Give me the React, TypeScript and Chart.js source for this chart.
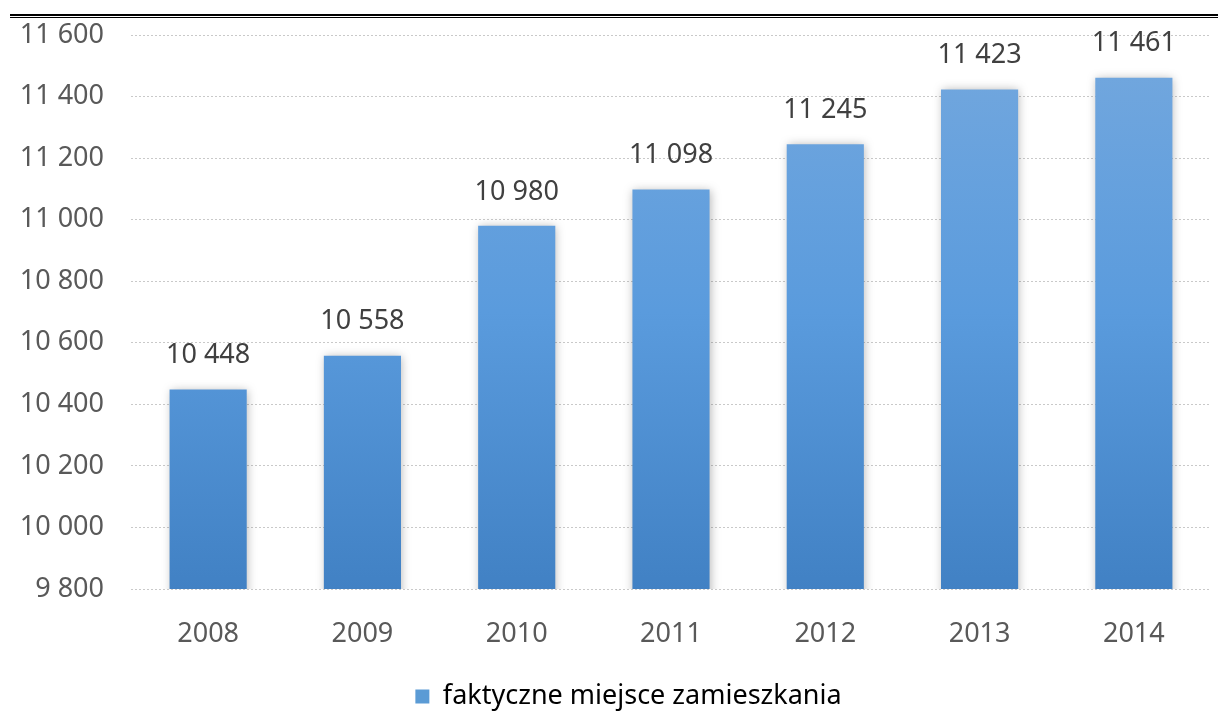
import React, { useEffect, useRef } from "react";
import { Chart, registerables } from "chart.js";

Chart.register(...registerables);

const categories = ["2008", "2009", "2010", "2011", "2012", "2013", "2014"];
const values = [10448, 10558, 10980, 11098, 11245, 11423, 11461];
const seriesLabel = "faktyczne miejsce zamieszkania";
const yMin = 9800;
const yMax = 11600;
const yStep = 200;

const FONT = "'Noto Sans', 'Open Sans', sans-serif";

const fmt = (v: number) => String(v).replace(/\B(?=(\d{3})+(?!\d))/g, " ");

export default function App() {
  const ref = useRef<HTMLCanvasElement | null>(null);

  useEffect(() => {
    document.body.style.margin = "0";
    const canvas = ref.current;
    if (!canvas) return;

    const labelPlugin = {
      id: "barLabels",
      afterLayout(chart: any) {
        const lg = chart.legend;
        if (lg) {
          lg.left += 23;
          lg.right += 23;
        }
      },
      beforeDatasetsDraw(chart: any) {
        const ctx = chart.ctx;
        ctx.save();
        ctx.shadowColor = "rgba(0,0,0,0.28)";
        ctx.shadowBlur = 9;
        ctx.shadowOffsetX = 1;
        ctx.shadowOffsetY = 0;
      },
      afterDatasetsDraw(chart: any) {
        const ctx = chart.ctx;
        ctx.restore();
        ctx.save();
        ctx.font = `27px ${FONT}`;
        ctx.fillStyle = "#404040";
        ctx.textAlign = "center";
        ctx.textBaseline = "middle";
        const meta = chart.getDatasetMeta(0);
        meta.data.forEach((bar: any, i: number) => {
          ctx.fillText(fmt(values[i]), bar.x, bar.y - 34);
        });
        ctx.restore();
      },
    };

    const chart = new Chart(canvas, {
      type: "bar",
      data: {
        labels: categories,
        datasets: [
          {
            label: seriesLabel,
            data: values,
            backgroundColor: (c: any) => {
              const area = c.chart.chartArea;
              if (!area) return "#5b9bd5";
              const g = c.chart.ctx.createLinearGradient(0, area.top, 0, area.bottom);
              g.addColorStop(0, "#74a8de");
              g.addColorStop(0.5, "#5a9bdd");
              g.addColorStop(1, "#4181c4");
              return g;
            },
            borderWidth: 0,
            categoryPercentage: 1,
            barPercentage: 0.5,
          },
        ],
      },
      options: {
        responsive: false,
        animation: false,
        layout: { padding: { top: 35, right: 7, left: 0, bottom: 0 } },
        scales: {
          x: {
            grid: { display: false },
            border: { display: false },
            ticks: {
              color: "#595959",
              font: { family: FONT, size: 27 },
              padding: 21,
            },
            afterFit: (s: any) => {
              s.height = 84;
              s.paddingLeft = 0;
              s.paddingRight = 0;
            },
          },
          y: {
            min: yMin,
            max: yMax,
            grid: { color: "#c9c9c9", drawTicks: false, lineWidth: 1 },
            border: { display: false, dash: [2, 2] },
            ticks: {
              stepSize: yStep,
              color: "#595959",
              font: { family: FONT, size: 27 },
              padding: 27,
              callback: (v: any) => fmt(Number(v)),
            },
            afterFit: (s: any) => {
              s.width = 131;
              s.paddingTop = 0;
              s.paddingBottom = 0;
            },
          },
        },
        plugins: {
          legend: {
            position: "bottom",
            labels: {
              color: "#595959",
              font: { family: FONT, size: 27 },
              boxWidth: 14,
              boxHeight: 14,
              padding: 10,
              generateLabels: () => [
                {
                  text: seriesLabel,
                  fillStyle: "#5b9bd5",
                  strokeStyle: "#5b9bd5",
                  lineWidth: 0,
                  hidden: false,
                  datasetIndex: 0,
                },
              ],
            },
          },
          tooltip: { enabled: false },
        },
      },
      plugins: [labelPlugin],
    } as any);

    return () => chart.destroy();
  }, []);

  return (
    <div style={{ position: "relative", width: 1218, height: 720, background: "#fff", overflow: "hidden" }}>
      <div style={{ position: "absolute", left: 10, top: 14, width: 1208, height: 2, background: "#000" }} />
      <div style={{ position: "absolute", left: 10, top: 17, width: 1208, height: 1, background: "#000" }} />
      <canvas ref={ref} width={1218} height={720} style={{ position: "absolute", left: 0, top: 0, width: 1218, height: 720 }} />
    </div>
  );
}
